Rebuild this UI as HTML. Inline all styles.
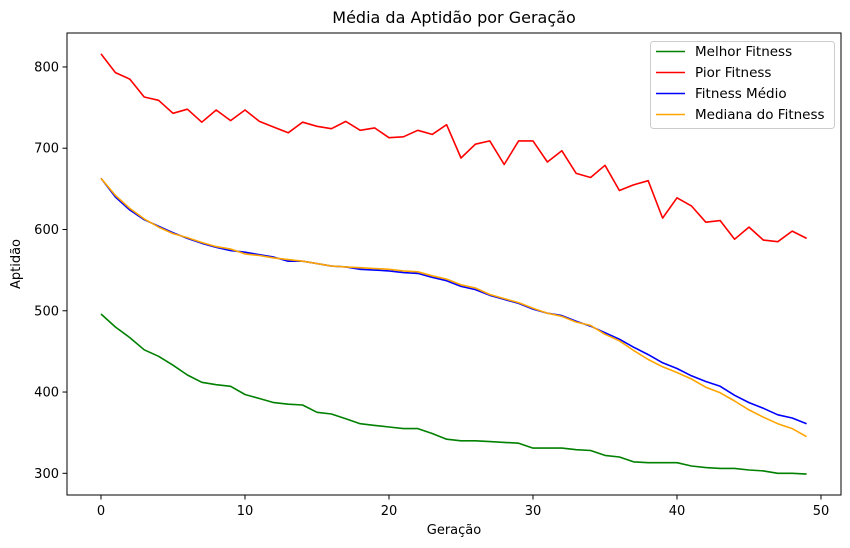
<!DOCTYPE html>
<html><head><meta charset="utf-8"><style>
body{margin:0;background:#fff;}
svg{display:block;font-family:"DejaVu Sans","Liberation Sans",sans-serif;}
</style></head><body>
<svg id="chart" width="850" height="548" viewBox="0 0 850 548" xmlns="http://www.w3.org/2000/svg">
<rect width="850" height="548" fill="#fff"/>
<text x="454" y="23" text-anchor="middle" font-size="16">Média da Aptidão por Geração</text>
<g id="ticks"></g>
<g id="series"></g>
<rect x="67" y="33" width="774" height="462" fill="none" stroke="#000" stroke-width="1"/>
<text x="454" y="534" text-anchor="middle" font-size="13">Geração</text>
<text transform="translate(20,264) rotate(-90)" text-anchor="middle" font-size="13">Aptidão</text>
<g>
<rect x="650.5" y="41.5" width="184" height="87" rx="3" fill="#fff" fill-opacity="0.8" stroke="#ccc"/>
<g id="legend-items"></g>
</g>
</svg>
<script>
const generations = Array.from({length:50},(_,i)=>i);
const bestFitness = [496,480,467,452,444,433,421,412,409,407,397,392,387,385,384,375,373,367,361,359,357,355,355,349,342,340,340,339,338,337,331,331,331,329,328,322,320,314,313,313,313,309,307,306,306,304,303,300,300,299];
const worstFitness = [816,793,785,763,759,743,748,732,747,734,747,733,726,719,732,727,724,733,722,725,713,714,722,717,729,688,705,709,680,709,709,683,697,669,664,679,648,655,660,614,639,629,609,611,588,603,587,585,598,589];
const meanFitness = [663,640,624,612,604,596,589,583,578,574,572,569,566,561,561,558,555,554,551,550,549,547,546,541,537,530,526,519,514,509,502,497,494,487,481,473,465,455,446,436,429,420,413,407,396,387,380,372,368,361];
const medianFitness = [663,642,626,613,603,595,590,584,579,576,570,568,565,563,561,558,555,554,553,552,551,549,548,543,539,532,528,520,515,510,503,497,493,486,482,471,463,451,440,431,424,416,406,399,389,378,369,361,355,345];
const xTicks = [0,10,20,30,40,50];
const yTicks = [300,400,500,600,700,800];
const seriesNames = ["Melhor Fitness","Pior Fitness","Fitness Médio","Mediana do Fitness"];
const seriesColors = ["green","red","blue","orange"];
const seriesData = [bestFitness, worstFitness, meanFitness, medianFitness];

const NS = "http://www.w3.org/2000/svg";
const xs = v => 101 + v*14.4;
const ys = v => 473.3 - (v-300)*0.8127;
function mk(tag, attrs){const e=document.createElementNS(NS,tag);for(const k in attrs)e.setAttribute(k,attrs[k]);return e;}
const ticks=document.getElementById('ticks');
xTicks.forEach(t=>{
  const l=mk('line',{x1:xs(t),x2:xs(t),y1:495,y2:499.5,stroke:'#000'});
  
  
  ticks.appendChild(l);
  const tx=mk('text',{x:xs(t),y:515,'text-anchor':'middle','font-size':13});
  
  
  tx.textContent=t;ticks.appendChild(tx);
});
yTicks.forEach(t=>{
  const l=mk('line',{x1:62.5,x2:67,y1:ys(t),y2:ys(t),stroke:'#000'});
  
  
  ticks.appendChild(l);
  const tx=mk('text',{x:59,y:ys(t)+4.5,'text-anchor':'end','font-size':13});
  
  
  tx.textContent=t;ticks.appendChild(tx);
});
const sg=document.getElementById('series');
seriesData.forEach((d,i)=>{
  const pts=d.map((v,j)=>xs(generations[j]).toFixed(1)+','+ys(v).toFixed(1)).join(' ');
  const p=mk('polyline',{points:pts,fill:'none',stroke:seriesColors[i],'stroke-width':1.6,'stroke-linejoin':'round'});
  
  
  sg.appendChild(p);
});
const lg=document.getElementById('legend-items');
seriesNames.forEach((n,i)=>{
  const y=51.5+i*21;
  const l=mk('line',{x1:656,x2:685,y1:y,y2:y,stroke:seriesColors[i],'stroke-width':1.6});
  
  
  lg.appendChild(l);
  const t=mk('text',{x:695,y:y+4.5,'font-size':13.5});
  
  
  t.textContent=n;lg.appendChild(t);
});
</script>
</body></html>
